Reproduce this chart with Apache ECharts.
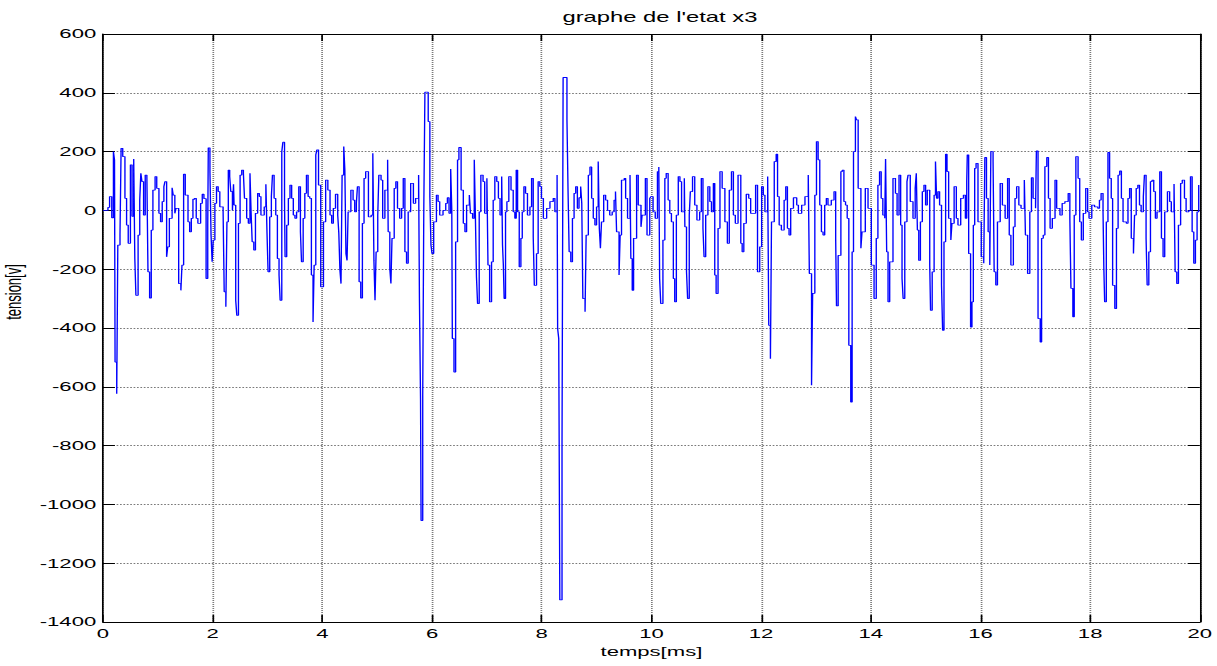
<!DOCTYPE html>
<html>
<head>
<meta charset="utf-8">
<title>graphe de l'etat x3</title>
<script src="https://cdn.jsdelivr.net/npm/echarts@6/dist/echarts.min.js"></script>
<style>
  html, body { margin: 0; padding: 0; background: #fff; overflow: hidden; }
  /* the figure is drawn narrow and stretched sideways, like the original export */
  #main { width: 716px; height: 666px; transform: scaleX(1.6997); transform-origin: 0 0; }
</style>
</head>
<body>
<div id="main"></div>
<script>
// signal x3, [temps ms, tension V], one array per 2 ms of the trace
var seg0 = [[0,0],[0.09,10],[0.12,47],[0.16,-25],[0.19,200],[0.21,171],[0.22,-516],[0.25,-624],[0.27,-118],[0.31,-84],[0.33,211],[0.36,183],[0.4,41],[0.43,-50],[0.46,-112],[0.5,155],[0.53,-20],[0.56,175],[0.58,-164],[0.6,-289],[0.64,-84],[0.67,35],[0.69,126],[0.71,98],[0.74,-16],[0.77,120],[0.8,115],[0.82,-209],[0.85,-298],[0.88,-67],[0.91,69],[0.95,115],[0.98,75],[1.02,-10],[1.05,-39],[1.08,30],[1.11,81],[1.13,98],[1.16,-158],[1.18,-124],[1.21,-27],[1.26,77],[1.28,52],[1.31,-10],[1.33,7],[1.38,-249],[1.42,-272],[1.44,-186],[1.47,123],[1.5,52],[1.55,-39],[1.58,-73],[1.61,-27],[1.64,38],[1.67,41],[1.7,-27],[1.73,-44],[1.78,24],[1.81,55],[1.84,40],[1.88,-232],[1.91,-50],[1.92,213],[1.95,131],[1.97,-84],[1.99,-175]];
var seg1 = [[2.01,-101],[2.04,24],[2.07,81],[2.1,64],[2.13,12],[2.19,-5],[2.21,-277],[2.24,-328],[2.26,-39],[2.285,137],[2.31,115],[2.33,64],[2.36,0],[2.38,89],[2.39,18],[2.42,-306],[2.44,-357],[2.47,-44],[2.5,120],[2.53,137],[2.56,126],[2.58,41],[2.62,-27],[2.65,-44],[2.68,126],[2.7,-5],[2.72,-107],[2.75,-135],[2.78,-10],[2.82,58],[2.85,47],[2.88,-16],[2.94,12],[2.97,89],[2.99,-73],[3.01,-209],[3.04,-22],[3.07,47],[3.09,120],[3.12,41],[3.15,-16],[3.18,-164],[3.21,-220],[3.23,-306],[3.26,200],[3.28,232],[3.31,35],[3.32,-158],[3.35,-50],[3.38,41],[3.41,86],[3.44,41],[3.47,-16],[3.5,-27],[3.53,-5],[3.57,81],[3.6,-73],[3.62,-175],[3.65,-27],[3.68,58],[3.71,120],[3.74,47],[3.77,41],[3.8,-220],[3.83,-380],[3.85,-186],[3.88,189],[3.9,206],[3.93,86],[3.97,-260]];
var seg2 = [[4.02,-39],[4.06,103],[4.1,69],[4.14,-16],[4.17,-44],[4.2,7],[4.24,55],[4.28,-16],[4.3,-78],[4.32,-203],[4.34,-249],[4.36,120],[4.39,217],[4.41,137],[4.43,-147],[4.45,-170],[4.47,-5],[4.52,69],[4.56,35],[4.59,-5],[4.62,24],[4.64,81],[4.67,-243],[4.7,-298],[4.73,-44],[4.76,109],[4.79,132],[4.84,-22],[4.89,-16],[4.92,194],[4.94,-170],[4.96,-306],[4.98,-141],[5.01,-16],[5.03,120],[5.07,103],[5.1,-27],[5.14,69],[5.19,172],[5.2,-73],[5.23,-198],[5.25,-249],[5.27,-95],[5.31,75],[5.34,98],[5.37,7],[5.41,-27],[5.445,7],[5.475,109],[5.505,-141],[5.535,-180],[5.565,-5],[5.61,92],[5.66,24],[5.7,41],[5.755,120],[5.77,-300],[5.79,-640],[5.8,-1055],[5.83,-630],[5.85,18],[5.87,402],[5.93,302],[5.96,47],[5.98,-118]];
var seg3 = [[6.0,-147],[6.03,-39],[6.08,52],[6.11,30],[6.14,-16],[6.2,0],[6.25,24],[6.28,43],[6.31,-10],[6.34,141],[6.36,0],[6.37,-436],[6.4,-550],[6.43,-107],[6.465,172],[6.49,214],[6.53,69],[6.57,-44],[6.6,-73],[6.63,18],[6.68,52],[6.7,-10],[6.74,-27],[6.77,172],[6.79,-16],[6.81,-226],[6.83,-317],[6.86,-5],[6.89,120],[6.93,98],[6.96,-10],[7.0,109],[7.02,-186],[7.05,-311],[7.085,-175],[7.115,35],[7.145,115],[7.18,98],[7.21,41],[7.24,-16],[7.27,115],[7.285,-118],[7.3,-186],[7.315,-300],[7.34,-5],[7.365,30],[7.4,115],[7.44,69],[7.48,-5],[7.51,-27],[7.535,137],[7.56,-5],[7.59,-192],[7.62,-95],[7.645,-5],[7.675,81],[7.705,58],[7.74,-16],[7.785,12],[7.815,109],[7.845,-90],[7.865,-255],[7.905,-147],[7.935,98],[7.965,81],[7.995,41]];
var seg4 = [[8.03,-27],[8.09,7],[8.15,30],[8.21,41],[8.24,-5],[8.28,120],[8.29,-402],[8.31,-436],[8.33,-1325],[8.37,-800],[8.39,452],[8.46,308],[8.48,64],[8.5,-141],[8.53,-175],[8.56,-27],[8.59,58],[8.62,81],[8.65,7],[8.68,43],[8.71,81],[8.73,24],[8.75,-300],[8.79,-345],[8.81,-84],[8.85,120],[8.88,148],[8.91,41],[8.94,-27],[8.97,-50],[9.0,12],[9.03,166],[9.05,-61],[9.07,-129],[9.09,-39],[9.13,52],[9.165,35],[9.2,0],[9.24,-16],[9.285,-5],[9.32,35],[9.345,64],[9.365,-73],[9.41,-220],[9.43,-84],[9.455,103],[9.505,109],[9.53,41],[9.565,-27],[9.61,120],[9.625,-164],[9.65,-272],[9.675,-95],[9.73,120],[9.76,18],[9.81,-56],[9.83,-16],[9.89,109],[9.92,-84],[9.97,41],[9.99,47]];
var seg5 = [[10.03,-5],[10.07,-27],[10.11,132],[10.135,148],[10.15,-232],[10.17,-317],[10.21,-101],[10.245,109],[10.27,126],[10.305,35],[10.335,-10],[10.365,-39],[10.4,-232],[10.425,-311],[10.455,-16],[10.49,115],[10.52,98],[10.55,-5],[10.6,109],[10.61,-56],[10.64,-209],[10.66,-300],[10.69,-16],[10.71,64],[10.75,115],[10.79,18],[10.83,-33],[10.88,-5],[10.91,109],[10.94,-61],[10.96,-158],[10.99,-16],[11.03,81],[11.065,30],[11.095,-5],[11.13,92],[11.155,-220],[11.18,-283],[11.215,-61],[11.25,132],[11.29,75],[11.34,-39],[11.385,-112],[11.42,69],[11.46,132],[11.495,-16],[11.53,-44],[11.58,120],[11.63,-112],[11.655,-141],[11.685,-44],[11.73,55],[11.775,41],[11.81,-10],[11.9,86],[11.935,-209],[11.975,-124]];
var seg6 = [[12.01,81],[12.04,52],[12.07,-5],[12.12,115],[12.14,-391],[12.17,-505],[12.19,-39],[12.24,166],[12.275,191],[12.3,47],[12.33,-50],[12.37,-67],[12.42,35],[12.45,81],[12.48,-61],[12.51,-84],[12.54,7],[12.59,43],[12.65,18],[12.68,-10],[12.74,18],[12.8,47],[12.86,120],[12.88,-215],[12.92,-595],[12.94,-282],[12.98,52],[13.01,234],[13.04,172],[13.07,18],[13.1,-73],[13.13,-84],[13.16,18],[13.19,41],[13.22,18],[13.28,35],[13.33,64],[13.36,-95],[13.375,-325],[13.405,-153],[13.455,132],[13.48,137],[13.51,30],[13.54,18],[13.57,-27],[13.6,-459],[13.635,-652],[13.66,-141],[13.685,200],[13.72,319],[13.74,308],[13.77,75],[13.82,-129],[13.84,-73],[13.9,75],[13.95,7]];
var seg7 = [[14.01,-186],[14.06,-300],[14.1,-95],[14.13,86],[14.16,132],[14.19,41],[14.22,-16],[14.255,-27],[14.27,175],[14.29,-141],[14.315,-311],[14.345,-175],[14.405,109],[14.45,58],[14.48,-16],[14.515,120],[14.545,-50],[14.57,-232],[14.59,-300],[14.62,-39],[14.66,98],[14.68,120],[14.72,30],[14.77,-27],[14.81,75],[14.83,126],[14.85,-67],[14.875,-170],[14.905,-39],[14.94,64],[14.97,86],[15.0,18],[15.03,69],[15.075,-186],[15.09,-340],[15.12,-209],[15.155,52],[15.18,166],[15.2,41],[15.225,64],[15.255,18],[15.29,-254],[15.31,-408],[15.335,-107],[15.365,191],[15.39,132],[15.42,-27],[15.46,-101],[15.48,-44],[15.52,81],[15.56,-27],[15.59,-50],[15.64,41],[15.69,52],[15.725,-27],[15.75,98],[15.76,189],[15.785,-147],[15.82,-397],[15.845,-311],[15.87,-50],[15.895,143],[15.92,160],[15.955,-39]];
var seg8 = [[16.015,-158],[16.06,-180],[16.08,180],[16.11,41],[16.14,-73],[16.17,-186],[16.19,200],[16.23,166],[16.25,-209],[16.28,-254],[16.31,-39],[16.36,92],[16.4,18],[16.45,-27],[16.495,109],[16.525,-84],[16.555,-186],[16.6,-56],[16.63,41],[16.66,81],[16.7,18],[16.74,7],[16.8,103],[16.82,-84],[16.86,-215],[16.9,-5],[16.93,111],[16.96,41],[17.005,7],[17.02,202],[17.05,-368],[17.09,-448],[17.115,-95],[17.145,-84],[17.175,149],[17.21,180],[17.24,41],[17.27,-61],[17.31,-27],[17.36,103],[17.39,7],[17.45,-16],[17.49,24],[17.54,30],[17.6,58],[17.63,-27],[17.65,-265],[17.685,-362],[17.71,-16],[17.74,183],[17.78,109],[17.81,-39],[17.84,-101],[17.875,-10],[17.92,75],[17.955,-5],[17.98,-27]];
var seg9 = [[18.03,18],[18.08,12],[18.14,7],[18.17,35],[18.2,58],[18.235,-5],[18.25,-198],[18.265,-311],[18.295,-39],[18.325,197],[18.355,109],[18.385,41],[18.41,-255],[18.45,-334],[18.48,-61],[18.51,120],[18.54,134],[18.57,41],[18.6,-39],[18.66,-44],[18.69,41],[18.72,75],[18.75,-95],[18.79,-147],[18.81,-16],[18.84,75],[18.87,86],[18.9,18],[18.93,-5],[18.97,47],[18.99,120],[19.02,-95],[19.04,-254],[19.07,-141],[19.1,98],[19.13,103],[19.16,64],[19.19,-27],[19.22,-5],[19.27,132],[19.3,-95],[19.33,-158],[19.36,-5],[19.41,64],[19.45,30],[19.48,-5],[19.53,90],[19.55,-209],[19.58,-249],[19.61,-50],[19.65,92],[19.68,103],[19.72,41],[19.75,-5],[19.8,0],[19.83,115],[19.86,-73],[19.89,-180],[19.92,-101],[19.95,-5],[19.98,86],[20,86]];

var xMin = 0, xMax = 20, xStep = 2
var yMin = -1400, yMax = 600, yStep = 200

var x3 = [].concat(seg0, seg1, seg2, seg3, seg4, seg5, seg6, seg7, seg8, seg9)

var font = 'Liberation Sans, Arial, Helvetica, sans-serif'

var chart = echarts.init(document.getElementById('main'), null, { renderer: 'svg' })

// plot box in the narrow (unstretched) frame
var plotLeft = 60.6, plotRight = 10.1, plotWidth = 716 - plotLeft - plotRight

// matlab style box: ticks inside on all four sides
var boxX = {
  type: 'value', min: xMin, max: xMax, interval: xStep,
  axisLine: { show: true, onZero: false, lineStyle: { color: '#000', width: 1 } },
  axisTick: { show: true, inside: true, length: 7, lineStyle: { color: '#000' } },
  axisLabel: { show: false },
  splitLine: { show: false }
}
var boxY = {
  type: 'value', min: yMin, max: yMax, interval: yStep,
  axisLine: { show: true, onZero: false, lineStyle: { color: '#000', width: 1 } },
  axisTick: { show: true, inside: true, length: 7, lineStyle: { color: '#000' } },
  axisLabel: { show: false },
  splitLine: { show: false }
}

var option = {
  backgroundColor: '#fff',
  animation: false,
  title: {
    text: "graphe de l'etat x3",
    left: plotLeft + plotWidth / 2,
    textAlign: 'center',
    top: 5,
    textStyle: { fontFamily: font, fontSize: 14, fontWeight: 'normal', color: '#000' }
  },
  // y label sits a bit above the middle of the axis, as in the original
  graphic: [
    {
      type: 'text',
      x: 8,
      y: 292,
      rotation: Math.PI / 2,
      silent: true,
      style: {
        text: 'tension[v]',
        fontFamily: font,
        fontSize: 13,
        fill: '#000',
        align: 'center',
        verticalAlign: 'middle'
      }
    }
  ],
  grid: {
    left: plotLeft, right: plotRight, top: 34, bottom: 44,
    containLabel: false, outerBoundsMode: 'none'
  },
  xAxis: [
    Object.assign({}, boxX, {
      position: 'bottom',
      name: 'temps[ms]',
      nameLocation: 'middle',
      nameGap: 22,
      nameTextStyle: { fontFamily: font, fontSize: 13, color: '#000' },
      axisLabel: { show: true, margin: 5, fontFamily: font, fontSize: 13, color: '#000' },
      splitLine: { show: true, lineStyle: { color: '#7a7a7a', type: [1, 1], width: 1 } }
    }),
    Object.assign({}, boxX, { position: 'top' })
  ],
  yAxis: [
    Object.assign({}, boxY, {
      position: 'left',
      axisLabel: {
        show: true, margin: 4, fontFamily: font, fontSize: 13, color: '#000',
        formatter: function (v) { return String(v) }
      },
      splitLine: { show: true, lineStyle: { color: '#7a7a7a', type: [1, 1], width: 1 } }
    }),
    Object.assign({}, boxY, { position: 'right' })
  ],
  series: [
    {
      name: 'x3',
      type: 'line',
      step: 'end',
      data: x3,
      xAxisIndex: 0,
      yAxisIndex: 0,
      showSymbol: false,
      symbol: 'none',
      lineStyle: { color: '#0000ff', width: 0.8 },
      silent: true
    }
  ]
}

chart.setOption(option)
</script>
</body>
</html>
